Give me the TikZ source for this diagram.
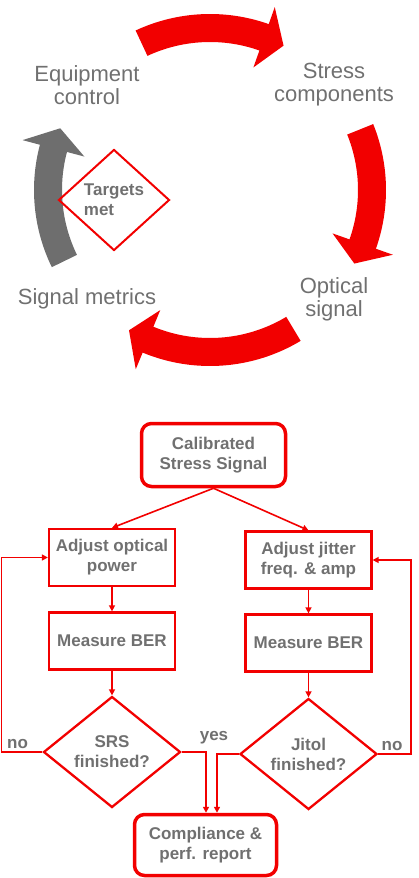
\documentclass[tikz,border=0pt]{standalone}
\usepackage{fontspec}
\setmainfont{Liberation Sans}
\usetikzlibrary{arrows.meta,positioning,calc,shapes.geometric}
\definecolor{ink}{HTML}{707070}
\definecolor{hot}{HTML}{F20000}
\definecolor{slate}{HTML}{6E6E6E}
\tikzset{lbl/.style={text=ink,font=\fontsize{22}{23}\selectfont,align=center},
  tag/.style={text=ink,font=\bfseries\fontsize{17}{20}\selectfont,align=center},
  terminal/.style={tag,draw=hot,line width=3.5pt,rounded corners=10pt,inner sep=0pt},
  procbox/.style={tag,draw=hot,line width=2.3pt,minimum width=126pt,minimum height=57pt,inner sep=0pt},
  decision/.style={tag,diamond,draw=hot,line width=2.3pt,minimum width=137pt,minimum height=111pt,inner sep=0pt},
  flow/.style={draw=hot,line width=1.6pt,-{Triangle[length=6pt,width=6pt]}}}
\newcommand{\cyclearrow}[3]{%
\fill[#1] (#2:176) arc[start angle=#2,end angle={#3+7.5},radius=176]
  -- ({#3+7.5}:194) -- (#3:162) -- ({#3+7.5}:130) -- ({#3+7.5}:148)
  arc[start angle={#3+7.5},end angle=#2,radius=148] -- cycle;}

\begin{document}
\begin{tikzpicture}[x=1pt,y=-1pt]
\useasboundingbox (0,0) rectangle (418,878);
% the cycle
\begin{scope}[shift={(210,190)},yscale=-1]
\cyclearrow{hot}{115}{63}
\cyclearrow{hot}{22}{-27}
\cyclearrow{hot}{-59}{-120}
\cyclearrow{slate}{206}{157.6}
\end{scope}
\node[lbl] (equip) at (87,85) {Equipment\\control};
\node[lbl] (stress) at (334,85) {Stress\\components};
\node[lbl] (optic) at (334,299) {Optical\\signal};
\node[lbl] (metric) at (87,299) {Signal metrics};
\node[tag,diamond,draw=hot,line width=2pt,minimum width=111pt,minimum height=101pt,
  inner sep=0pt,align=left] (target) at (114,200) {Targets\\met};
% the flow chart
\node[terminal,minimum width=144pt,minimum height=63pt] (calib) at (213.5,455) {Calibrated\\Stress Signal};
\node[procbox] (adjopt) at (112,557.5) {Adjust optical\\power};
\node[procbox] (adjjit) at (308.5,560) {Adjust jitter\\freq. \& amp};
\node[procbox] (measopt) at (112,641) {Measure BER};
\node[procbox] (measjit) at (308.5,643) {Measure BER};
\node[decision] (srs) at (112,752) {SRS\\finished?};
\node[decision] (jitol) at (308.5,754) {Jitol\\finished?};
\node[terminal,minimum width=142pt,minimum height=61pt] (report) at (205.5,845) {Compliance \&\\perf. report};
\coordinate (lback) at (1.5,650);
\coordinate (rback) at (411,650);
\draw[flow] (calib.south) -- (adjopt.north);
\draw[flow] (calib.south) -- (adjjit.north);
\draw[flow] (adjopt) -- (measopt);
\draw[flow] (adjjit) -- (measjit);
\draw[flow] (measopt) -- (srs);
\draw[flow] (measjit) -- (jitol);
\draw[flow] (srs.east) -| ([xshift=0.5pt]report.north);
\draw[flow] (jitol.west) -| ([xshift=11.5pt]report.north);
\draw[flow] (srs.west) -| (lback) |- (adjopt.west);
\draw[flow] (jitol.east) -| (rback) |- (adjjit.east);
\node[tag] (yes) at (214,738) {yes};
\node[tag] (nol) at (17.5,743.5) {no};
\node[tag] (nor) at (392,745.5) {no};
\end{tikzpicture}
\end{document}
